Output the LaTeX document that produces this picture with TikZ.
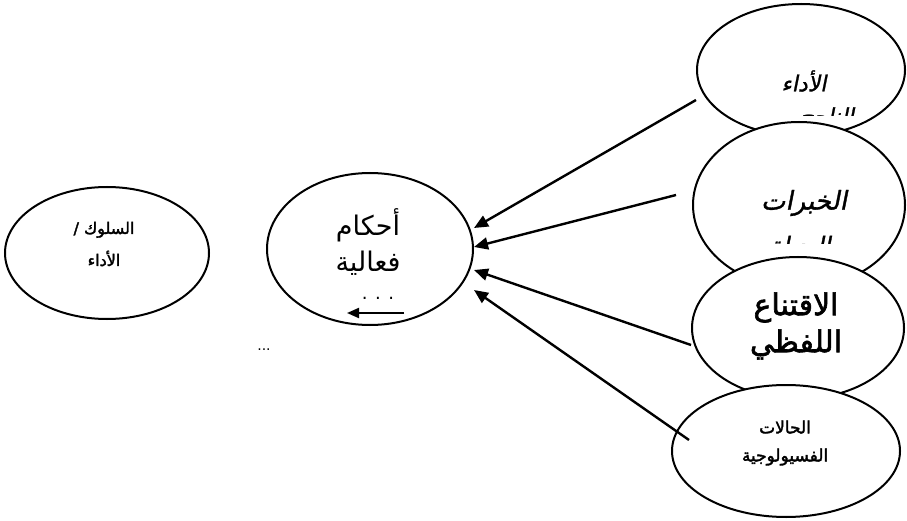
\documentclass[tikz,border=0pt]{standalone}
\usepackage{fontspec}
\usepackage{tikz}
\usetikzlibrary{arrows.meta, shapes.geometric}
\TeXXeTstate=1
\newfontfamily\arabicfont[Script=Arabic]{DejaVu Sans}
\newfontfamily\arabicslant[Script=Arabic,FakeSlant=0.2,FakeBold=1.2]{DejaVu Sans}
\newfontfamily\arabicbold[Script=Arabic,FakeBold=2]{DejaVu Sans}

\begin{document}
\begin{tikzpicture}[
    x=1pt, y=-1pt,
    oval/.style={ellipse, draw, line width=2pt, fill=white, inner sep=0pt},
    arrow/.style={-{Triangle[length=14pt, width=12pt]}, line width=2.4pt},
    lbl/.style={inner sep=0pt, align=center},
]
\useasboundingbox (0,0) rectangle (907,521);

% Behaviour and efficacy judgements
\node[oval, minimum width=204pt, minimum height=132pt] (beh) at (107,253) {};
\node[lbl, font=\arabicbold\fontsize{16}{32}\selectfont] (behtext) at (104,244) {\beginR السلوك /\endR\\\beginR الأداء\endR};
\node[oval, minimum width=206pt, minimum height=152pt] (eff) at (370,249) {};
\node[lbl, font=\arabicfont\fontsize{27}{36}\selectfont] (efftext) at (368,242) {\beginR أحكام\endR\\\beginR فعالية\endR};
\node[lbl, font=\arabicfont\fontsize{18}{18}\selectfont] (effdots) at (378,298) {. . .};
\coordinate (effR) at (404,313);
\coordinate (effL) at (347,313);
\draw[-{Triangle[length=12pt, width=10pt]}, line width=2pt] (effR) -- (effL);
\node[lbl, font=\arabicfont\fontsize{14}{14}\selectfont] (gapdots) at (264,350) {...};

% Sources (each one hides the one above)
\node[oval, minimum width=208pt, minimum height=132pt] (perf) at (801,70) {};
\node[lbl, font=\arabicslant\fontsize{22}{22}\selectfont] (perftext) at (804,81) {\beginR الأداء\endR};
\begin{scope}
  \clip (700,100) rectangle (900,116);
  \node[lbl, anchor=base, font=\arabicslant\fontsize{22}{22}\selectfont] (perfcut) at (827,124) {\beginR الناجح\endR};
\end{scope}

\node[oval, minimum width=212pt, minimum height=166pt] (vic) at (799,205) {};
\node[lbl, font=\arabicslant\fontsize{26}{26}\selectfont] (victext) at (804,203) {\beginR الخبرات\endR};
\begin{scope}
  \clip (700,228) rectangle (900,244);
  \node[lbl, anchor=base, font=\arabicslant\fontsize{24}{24}\selectfont] (viccut) at (800,254) {\beginR البديلة\endR};
\end{scope}

\node[oval, minimum width=212pt, minimum height=142pt] (pers) at (798,328) {};
\node[lbl, font=\arabicbold\fontsize{30}{37}\selectfont] (perstext) at (796,326) {\beginR الاقتناع\endR\\\beginR اللفظي\endR};
\node[oval, minimum width=228pt, minimum height=132pt] (phys) at (786,451) {};
\node[lbl, font=\arabicbold\fontsize{17}{28}\selectfont] (phystext) at (785,443) {\beginR الحالات\endR\\\beginR الفسيولوجية\endR};

% Arrows into the judgements
\draw[arrow] ([yshift=-30pt]perf.west) -- ([yshift=21pt]eff.east);
\draw[arrow] ([xshift=-16pt, yshift=10pt]vic.west) -- ([yshift=2pt]eff.east);
\draw[arrow] ([yshift=-17pt]pers.west) -- ([yshift=-21pt]eff.east);
\draw[arrow] ([xshift=18pt, yshift=11pt]phys.west) -- ([yshift=-41pt]eff.east);

\end{tikzpicture}
\end{document}
